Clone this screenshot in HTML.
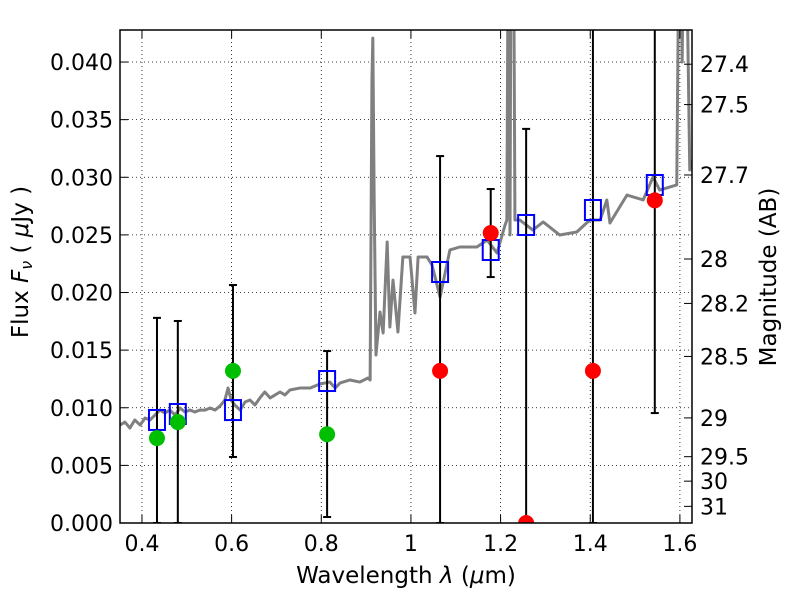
<!DOCTYPE html>
<html><head><meta charset="utf-8"><style>
body{margin:0;background:#fff}
svg text{font-family:"DejaVu Sans","Liberation Sans",sans-serif;fill:#000}
</style></head><body>
<svg id="chart" width="800" height="600" viewBox="0 0 800 600" xmlns="http://www.w3.org/2000/svg">
<defs><clipPath id="pc"><rect x="120" y="30" width="572" height="493"/></clipPath></defs>
</svg>
<script>
const specLambda=[0.351,0.362,0.373,0.384,0.396,0.407,0.418,0.429,0.440,0.451,0.462,0.474,0.485,0.496,0.507,0.518,0.529,0.541,0.552,0.563,0.574,0.585,0.592,0.599,0.607,0.619,0.630,0.641,0.652,0.663,0.674,0.686,0.697,0.708,0.719,0.730,0.752,0.775,0.797,0.819,0.831,0.842,0.864,0.886,0.904,0.909,0.913,0.915,0.918,0.922,0.931,0.938,0.947,0.953,0.960,0.971,0.982,0.998,1.009,1.016,1.036,1.047,1.065,1.087,1.109,1.147,1.170,1.192,1.210,1.214,1.218,1.221,1.224,1.228,1.232,1.243,1.272,1.295,1.332,1.370,1.399,1.422,1.437,1.444,1.482,1.518,1.540,1.555,1.593,1.600,1.605,1.611,1.622,1.627];
const specFlux=[0.0085,0.00876,0.00824,0.00894,0.0085,0.00911,0.00894,0.00937,0.0098,0.00954,0.0098,0.00937,0.00998,0.00963,0.0098,0.00963,0.0098,0.0098,0.00998,0.0098,0.01015,0.01067,0.01171,0.01067,0.01024,0.0098,0.0105,0.01067,0.01024,0.01085,0.01137,0.01085,0.01111,0.01137,0.01111,0.01154,0.01171,0.01171,0.01206,0.01223,0.01171,0.01215,0.01241,0.01223,0.01258,0.01241,0.03844,0.04208,0.02803,0.01458,0.01831,0.01649,0.02438,0.01701,0.02108,0.01657,0.02308,0.02308,0.01822,0.02308,0.02308,0.02239,0.01961,0.02369,0.02395,0.02395,0.02455,0.02343,0.02586,0.02629,0.06,0.025,0.06,0.06,0.02629,0.02629,0.02542,0.02612,0.02499,0.02525,0.02629,0.02629,0.02803,0.02603,0.02846,0.02803,0.03002,0.02889,0.02933,0.06,0.04,0.06,0.03063,0.0315];
const greenLambda=[0.4335,0.480,0.603,0.813];
const greenFlux=[0.00737,0.00876,0.0132,0.0077];
const greenErrHi=[0.0178,0.01753,0.02065,0.01492];
const greenErrLo=[0.0,0.0,0.00573,0.00052];
const redLambda=[1.065,1.178,1.257,1.406,1.544];
const redFlux=[0.0132,0.02516,0.0,0.0132,0.028];
const redErrHi=[0.03184,0.02898,0.0342,0.06,0.06];
const redErrLo=[0.0,0.02134,0.0,0.0,0.00954];
const modelLambda=[0.4335,0.480,0.603,0.813,1.065,1.178,1.257,1.406,1.544];
const modelFlux=[0.00894,0.00946,0.0098,0.01232,0.02178,0.02369,0.02586,0.02716,0.02933];
const xTicks=[0.4,0.6,0.8,1.0,1.2,1.4,1.6];
const xTickLabels=["0.4","0.6","0.8","1","1.2","1.4","1.6"];
const yTicks=[0,0.005,0.01,0.015,0.02,0.025,0.03,0.035,0.04];
const yTickLabels=["0.000","0.005","0.010","0.015","0.020","0.025","0.030","0.035","0.040"];
const magTicks=[27.4,27.5,27.7,28,28.2,28.5,29,29.5,30,31];

const L=120,R=692,T=30,B=523,X0=0.351,X1=1.627,Y0=0,Y1=0.04278;
const sx=v=>L+(v-X0)/(X1-X0)*(R-L);
const sy=v=>B-(v-Y0)/(Y1-Y0)*(B-T);
const NS="http://www.w3.org/2000/svg";
const svg=document.getElementById('chart');
function mk(tag,attrs,parent){const e=document.createElementNS(NS,tag);for(const k in attrs)e.setAttribute(k,attrs[k]);(parent||svg).appendChild(e);return e;}
const FS=22;

xTicks.forEach((t,i)=>{const g=mk('line',{x1:sx(t),x2:sx(t),y1:T,y2:B,stroke:'#000','stroke-width':0.8,'stroke-dasharray':'1,3'});

});
yTicks.forEach((t,i)=>{const g=mk('line',{x1:L,x2:R,y1:sy(t),y2:sy(t),stroke:'#000','stroke-width':0.8,'stroke-dasharray':'1,3'});

});

const plot=mk('g',{'clip-path':'url(#pc)'});


const sp=mk('polyline',{points:specLambda.map((w,i)=>sx(w)+','+sy(specFlux[i])).join(' '),fill:'none',stroke:'#808080','stroke-width':3,'stroke-linejoin':'round'},plot);



function errbar(w,lo,hi,name){
  const g=mk('g',{},plot);
  
  
  mk('line',{x1:sx(w),x2:sx(w),y1:sy(lo),y2:sy(hi),stroke:'#000','stroke-width':2},g);
  mk('line',{x1:sx(w)-4,x2:sx(w)+4,y1:sy(hi),y2:sy(hi),stroke:'#000','stroke-width':2},g);
  mk('line',{x1:sx(w)-4,x2:sx(w)+4,y1:sy(lo),y2:sy(lo),stroke:'#000','stroke-width':2},g);
}
greenLambda.forEach((w,i)=>errbar(w,greenErrLo[i],greenErrHi[i],'green-error-bar'));
redLambda.forEach((w,i)=>errbar(w,redErrLo[i],redErrHi[i],'red-error-bar'));
modelLambda.forEach((w,i)=>{const r=mk('rect',{x:sx(w)-8,y:sy(modelFlux[i])-10,width:16,height:20,fill:'none',stroke:'#0000ff','stroke-width':2},plot);

});
greenLambda.forEach((w,i)=>{const c=mk('circle',{cx:sx(w),cy:sy(greenFlux[i]),r:8,fill:'#00bf00'},plot);

});
redLambda.forEach((w,i)=>{const c=mk('circle',{cx:sx(w),cy:sy(redFlux[i]),r:8,fill:'#ff0000'},plot);

});

// mask anything below the axes
const cover=mk('rect',{x:L-2,y:B+1,width:R-L+4,height:12,fill:'#fff'});


const cover2=mk('rect',{x:L-2,y:T-14,width:R-L+4,height:13,fill:'#fff'});



const fr=mk('rect',{x:L,y:T,width:R-L,height:B-T,fill:'none',stroke:'#000','stroke-width':1.5});



xTicks.forEach((t,i)=>{mk('line',{x1:sx(t),x2:sx(t),y1:B,y2:B-8,stroke:'#000'});mk('line',{x1:sx(t),x2:sx(t),y1:T,y2:T+8,stroke:'#000'});
const tx=mk('text',{x:sx(t),y:B+28,'font-size':FS,'text-anchor':'middle'});tx.textContent=xTickLabels[i];

});
yTicks.forEach((t,i)=>{mk('line',{x1:L,x2:L+8,y1:sy(t),y2:sy(t),stroke:'#000'});
const tx=mk('text',{x:L-7,y:sy(t)+8,'font-size':FS,'text-anchor':'end'});tx.textContent=yTickLabels[i];

});
magTicks.forEach(m=>{const f=Math.pow(10,(23.9-m)/2.5);const y=sy(f);
mk('line',{x1:R,x2:R-8,y1:y,y2:y,stroke:'#000'});
const tx=mk('text',{x:R+8,y:y+8,'font-size':FS});tx.textContent=String(m);

});

const xl=mk('text',{x:406,y:583,'font-size':23,'text-anchor':'middle'});
xl.innerHTML='Wavelength  <tspan font-style="italic">λ</tspan> (<tspan font-style="italic">μ</tspan>m)';


const yl=mk('text',{x:0,y:0,'font-size':23,'text-anchor':'middle',transform:'translate(28,262) rotate(-90)'});
yl.innerHTML='Flux  <tspan font-style="italic">F</tspan><tspan font-style="italic" font-size="16" dy="4">ν</tspan><tspan dy="-4">  ( </tspan><tspan font-style="italic">μ</tspan>Jy )';


const rl=mk('text',{x:0,y:0,'font-size':23,'text-anchor':'middle',transform:'translate(776,277) rotate(-90)'});
rl.textContent='Magnitude (AB)';


</script>
</body></html>
